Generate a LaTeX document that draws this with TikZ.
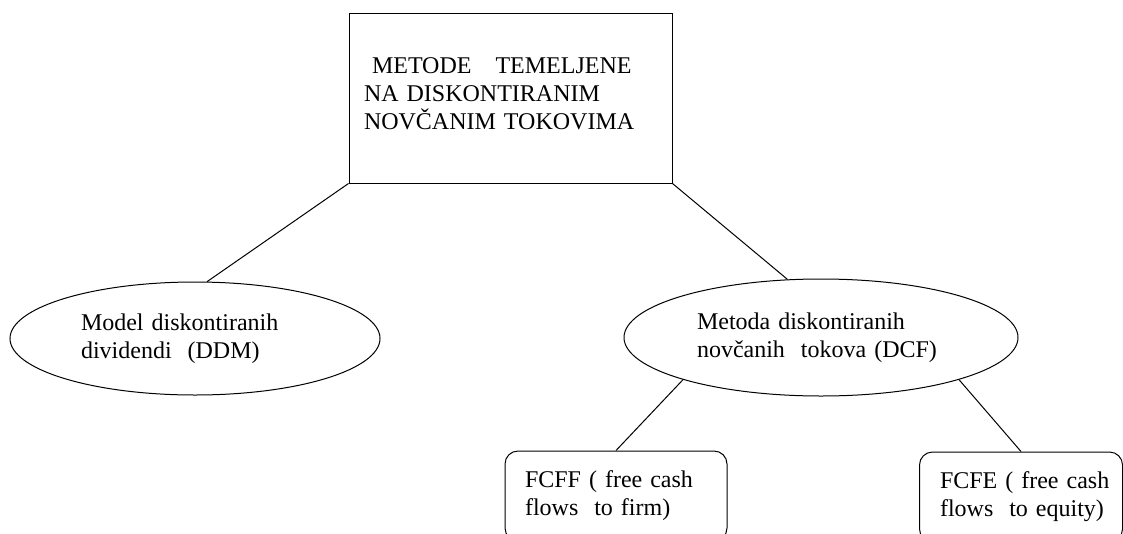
\documentclass[tikz,border=0pt]{standalone}
\usepackage{fontspec}
\setmainfont{Liberation Serif}
\usetikzlibrary{shapes.geometric}

\begin{document}
\begin{tikzpicture}[x=1pt,y=-1pt,line width=1pt,
    every node/.style={font=\fontsize{24}{28}\selectfont,align=left}]
  \clip (0,0) rectangle (1123,533);
  \path (510.5,98) node[rectangle,draw,minimum width=323pt,minimum height=170pt,text width=293pt] (A)
    {\hspace*{8pt}METODE\ \ \ TEMELJENE\\NA DISKONTIRANIM\\NOVČANIM TOKOVIMA\strut};
  \path (195,338.5) node[ellipse,draw,minimum width=370pt,minimum height=113pt,text width=228pt] (B)
    {Model diskontiranih\\dividendi\ \ (DDM)};
  \path (821,337.5) node[ellipse,draw,minimum width=394pt,minimum height=117pt,text width=248pt] (C)
    {Metoda diskontiranih\\novčanih\ \ tokova (DCF)};
  \path (616,496) node[rectangle,rounded corners=13pt,draw,minimum width=222pt,minimum height=90pt,text width=182pt] (D)
    {\mbox{FCFF ( free cash}\\\mbox{flows\ \ to firm)}};
  \path (1021,497) node[rectangle,rounded corners=13pt,draw,minimum width=203pt,minimum height=90pt,text width=162pt] (E)
    {\mbox{FCFE ( free cash}\\\mbox{flows\ \ to equity)}};

  \draw (A.south west) -- (B.78);
  \draw (A.south east) -- (C.120);
  \draw (C.197) -- (D.north);
  \draw (C.-17) -- (E.north);
\end{tikzpicture}
\end{document}
